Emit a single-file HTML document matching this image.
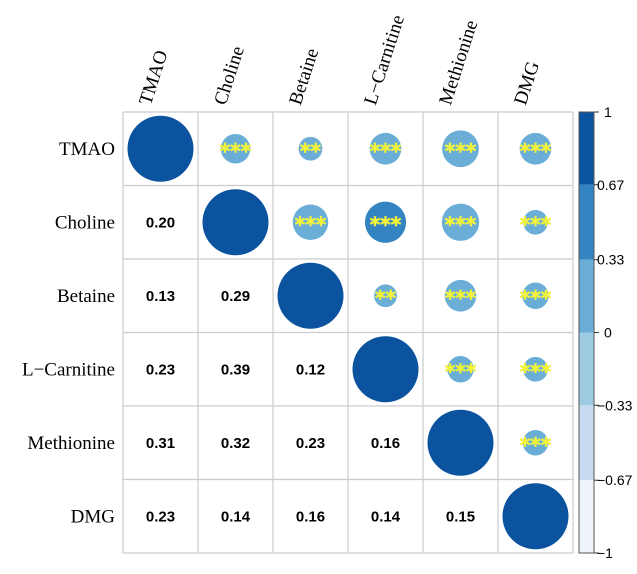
<!DOCTYPE html>
<html><head><meta charset="utf-8"><style>body{margin:0;background:#fff}</style></head>
<body>
<svg id="c" width="637" height="569" xmlns="http://www.w3.org/2000/svg"></svg>
<script>
const labels=["TMAO","Choline","Betaine","L\u2212Carnitine","Methionine","DMG"];
const corr=[
[1,0.20,0.13,0.23,0.31,0.23],
[0.20,1,0.29,0.39,0.32,0.14],
[0.13,0.29,1,0.12,0.23,0.16],
[0.23,0.39,0.12,1,0.16,0.14],
[0.31,0.32,0.23,0.16,1,0.15],
[0.23,0.14,0.16,0.14,0.15,1]];
const stars=[
["","***","**","***","***","***"],
["","","***","***","***","***"],
["","","","**","***","***"],
["","","","","***","***"],
["","","","","","***"],
["","","","","",""]];
const cbTicks=[1,0.67,0.33,0,-0.33,-0.67,-1];
const cbTickLabels=["1","0.67","0.33","0","\u22120.33","\u22120.67","\u22121"];
const cbColors=["#0b539f","#3484c1","#6aaed8","#9ecae2","#c6dbef","#eef3fc"];

const NS="http://www.w3.org/2000/svg",svg=document.getElementById('c');
const X0=123,Y0=112,CW=75,RH=73.5,N=labels.length;
const cx=j=>X0+CW*(j+0.5), cy=i=>Y0+RH*(i+0.5);
const CBT=112,CBB=553,cbY=v=>CBB-(v+1)/2*(CBB-CBT);
function col(v){const k=Math.min(5,Math.floor((1-v)/(2/6)));return cbColors[Math.max(0,k)];}
function el(t,a,txt){const e=document.createElementNS(NS,t);for(const k in a)e.setAttribute(k,a[k]);if(txt!=null)e.textContent=txt;svg.appendChild(e);return e;}
for(let k=0;k<=N;k++){
 let l=el('line',{x1:X0+CW*k,x2:X0+CW*k,y1:Y0,y2:Y0+RH*N,stroke:'#ccc','stroke-width':1.2});
 
 l=el('line',{x1:X0,x2:X0+CW*N,y1:Y0+RH*k,y2:Y0+RH*k,stroke:'#ccc','stroke-width':1.2});
 
}
for(let i=0;i<N;i++){
 let t=el('text',{x:115,y:cy(i)+6,'text-anchor':'end','font-family':'Liberation Serif, serif','font-size':19},labels[i]);
 
 let tx=cx(i)-10,ty=Y0-6;
 t=el('text',{x:tx,y:ty,'font-family':'Liberation Serif, serif','font-size':19,transform:`rotate(-72 ${tx} ${ty})`},labels[i]);
 
 for(let j=0;j<N;j++){
  const v=corr[i][j];
  if(j>=i){
   const c=el('circle',{cx:cx(j),cy:cy(i),r:33*Math.sqrt(Math.abs(v)),fill:col(v)});
   
   if(stars[i][j]){const s=el('text',{x:cx(j),y:cy(i)+9,'text-anchor':'middle','font-family':'DejaVu Sans, sans-serif','font-size':20,'font-weight':'bold',fill:'#f2f23a',stroke:'#f2f23a','stroke-width':0.6},stars[i][j]);
   }
  } else {
   const t2=el('text',{x:cx(j),y:cy(i)+5,'text-anchor':'middle','font-family':'Liberation Sans, sans-serif','font-size':15,'font-weight':'bold'},v.toFixed(2));
   
  }
 }
}
for(let k=0;k<cbColors.length;k++){
 const r=el('rect',{x:579,y:cbY(cbTicks[k]),width:15,height:cbY(cbTicks[k+1])-cbY(cbTicks[k]),fill:cbColors[k]});
 
}
const fr=el('rect',{x:579,y:CBT,width:15,height:CBB-CBT,fill:'none',stroke:'#555','stroke-width':1});

cbTicks.forEach((v,k)=>{
 const l=el('line',{x1:594,x2:599,y1:cbY(v),y2:cbY(v),stroke:'#333'});
 
 const t=el('text',{x:v===0||v===1?604:597,y:cbY(v)+5,'font-family':'Liberation Sans, sans-serif','font-size':14},cbTickLabels[k]);
 
});
</script>
</body></html>
